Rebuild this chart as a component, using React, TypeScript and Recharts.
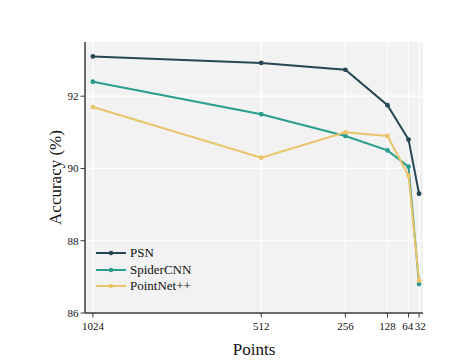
import React from "react";
import {
  LineChart,
  Line,
  XAxis,
  YAxis,
  CartesianGrid,
  Label
} from "recharts";

const points = [1024, 512, 256, 128, 64, 32];
const psn = [93.1, 92.92, 92.73, 91.75, 90.8, 89.3];
const spiderCnn = [92.4, 91.5, 90.9, 90.5, 90.05, 86.8];
const pointNetPP = [91.7, 90.3, 91.0, 90.9, 89.8, 86.9];

const xMajor = [1024, 512, 256, 128, 64, 32];
const xMinor = [768, 384, 192, 96, 48];
const yMajor = [86, 88, 90, 92];
const yMinor = [87, 89, 91, 93];

const data = points.map((p, i) => ({
  points: p,
  PSN: psn[i],
  SpiderCNN: spiderCnn[i],
  "PointNet++": pointNetPP[i]
}));

const series = [
  { key: "PSN", color: "#264653" },
  { key: "SpiderCNN", color: "#2a9d8f" },
  { key: "PointNet++", color: "#e9c46a" }
];

const font = "Liberation Serif";
const axisColor = "#3a3a3a";

function LegendBox() {
  return (
    <div
      style={{
        position: "absolute",
        left: 95,
        top: 245,
        fontFamily: font,
        fontSize: 13,
        color: "#111",
        lineHeight: "16.5px"
      }}
    >
      {series.map(s => (
        <div key={s.key} style={{ display: "flex", alignItems: "center", height: 16.5 }}>
          <svg width={32} height={8} style={{ marginRight: 3 }}>
            <line x1={1} y1={4} x2={31} y2={4} stroke={s.color} strokeWidth={2} />
            <circle cx={16} cy={4} r={2.3} fill={s.color} />
          </svg>
          <span>{s.key}</span>
        </div>
      ))}
    </div>
  );
}

const emptyTick = () => <g />;

// the last two x labels sit very close together, nudge them apart a bit
function XTick(props: any) {
  const { x, y, payload } = props;
  const v = payload.value;
  const dx = v === 64 ? -0.8 : v === 32 ? 1.2 : 0;
  return (
    <text
      x={x + dx}
      y={y + 10}
      textAnchor="middle"
      fill="#111"
      fontSize={11}
      fontFamily={font}
    >
      {v}
    </text>
  );
}

export default function App() {
  return (
    <div
      style={{
        position: "absolute",
        left: 0,
        top: 0,
        width: 474,
        height: 363,
        background: "#fff",
        fontFamily: font
      }}
    >
      <LineChart
        width={474}
        height={363}
        data={data}
        margin={{ top: 42, right: 51, bottom: 0, left: 0 }}
        style={{ fontFamily: font }}
      >
        <CartesianGrid
          fill="#f2f2f2"
          stroke="#ffffff"
          strokeWidth={1.2}
          horizontalValues={yMajor}
          verticalValues={xMajor}
        />
        <XAxis
          xAxisId="m"
          type="number"
          dataKey="points"
          domain={[20, 1048]}
          reversed
          ticks={xMinor}
          tick={emptyTick}
          tickSize={2.5}
          tickLine={{ stroke: axisColor, strokeWidth: 1 }}
          axisLine={false}
          height={0}
          allowDataOverflow
        />
        <XAxis
          type="number"
          dataKey="points"
          domain={[20, 1048]}
          reversed
          ticks={xMajor}
          interval={0}
          tickSize={4.5}
          tickLine={{ stroke: axisColor, strokeWidth: 1 }}
          axisLine={{ stroke: axisColor, strokeWidth: 1.5 }}
          tick={<XTick />}
          height={50}
          allowDataOverflow
        >
          <Label
            value="Points"
            position="insideBottom"
            offset={8}
            style={{ fill: "#111", fontSize: 17, fontFamily: font }}
          />
        </XAxis>
        <YAxis
          yAxisId="m"
          type="number"
          domain={[86, 93.5]}
          ticks={yMinor}
          tick={emptyTick}
          tickSize={2.5}
          tickLine={{ stroke: axisColor, strokeWidth: 1 }}
          axisLine={false}
          width={0}
          allowDataOverflow
        />
        <YAxis
          type="number"
          domain={[86, 93.5]}
          ticks={yMajor}
          interval={0}
          tickSize={4.5}
          tickLine={{ stroke: axisColor, strokeWidth: 1 }}
          axisLine={{ stroke: axisColor, strokeWidth: 1.5 }}
          tick={{ fill: "#111", fontSize: 11, fontFamily: font }}
          width={85}
          allowDataOverflow
        >
          <Label
            value="Accuracy (%)"
            angle={-90}
            position="insideLeft"
            offset={55}
            style={{ fill: "#111", fontSize: 17, fontFamily: font, textAnchor: "middle" }}
          />
        </YAxis>
        {series.map(s => (
          <Line
            key={s.key}
            type="linear"
            dataKey={s.key}
            stroke={s.color}
            strokeWidth={2}
            dot={{ r: 2.4, fill: s.color, stroke: s.color, strokeWidth: 0 }}
            activeDot={false}
            isAnimationActive={false}
          />
        ))}
      </LineChart>
      <LegendBox />
    </div>
  );
}
